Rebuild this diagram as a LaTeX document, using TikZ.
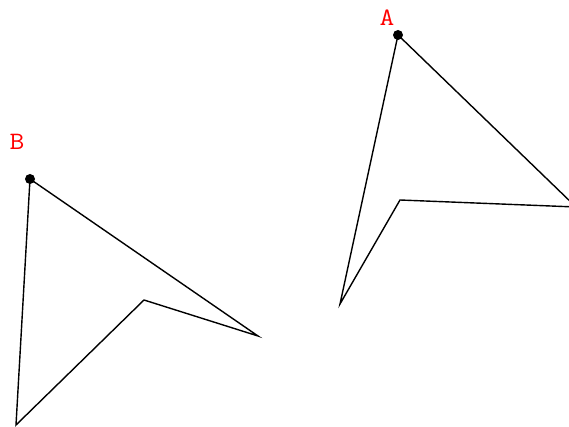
\documentclass[tikz,border=0pt]{standalone}
\usetikzlibrary{positioning}

\begin{document}
\begin{tikzpicture}[
x=1pt,y=-1pt,
edge/.style={draw=black,line width=1.4pt,line join=miter},
pin/.style={circle,fill=black,inner sep=0pt,minimum size=10pt},
lbl/.style={text=red,font=\ttfamily\fontsize{25}{30}\selectfont,inner sep=0pt,xscale=1.15}
]
\useasboundingbox (0,0) rectangle (569,427);
\clip (0,0) rectangle (569,427);

% shape A
\coordinate (a1) at (398,35);
\coordinate (a2) at (576,207);
\coordinate (a3) at (400,200);
\coordinate (a4) at (340,304);
\draw[edge] (a1) -- (a2) -- (a3) -- (a4) -- cycle;
\node[pin] (pa) at (a1) {};
\node[lbl] (la) at (387,18) {A};

% shape B
\coordinate (b1) at (30,179);
\coordinate (b2) at (258,336);
\coordinate (b3) at (144,300);
\coordinate (b4) at (16,425);
\draw[edge] (b1) -- (b2) -- (b3) -- (b4) -- cycle;
\node[pin] (pb) at (b1) {};
\node[lbl] (lb) at (17,142) {B};
\end{tikzpicture}
\end{document}
